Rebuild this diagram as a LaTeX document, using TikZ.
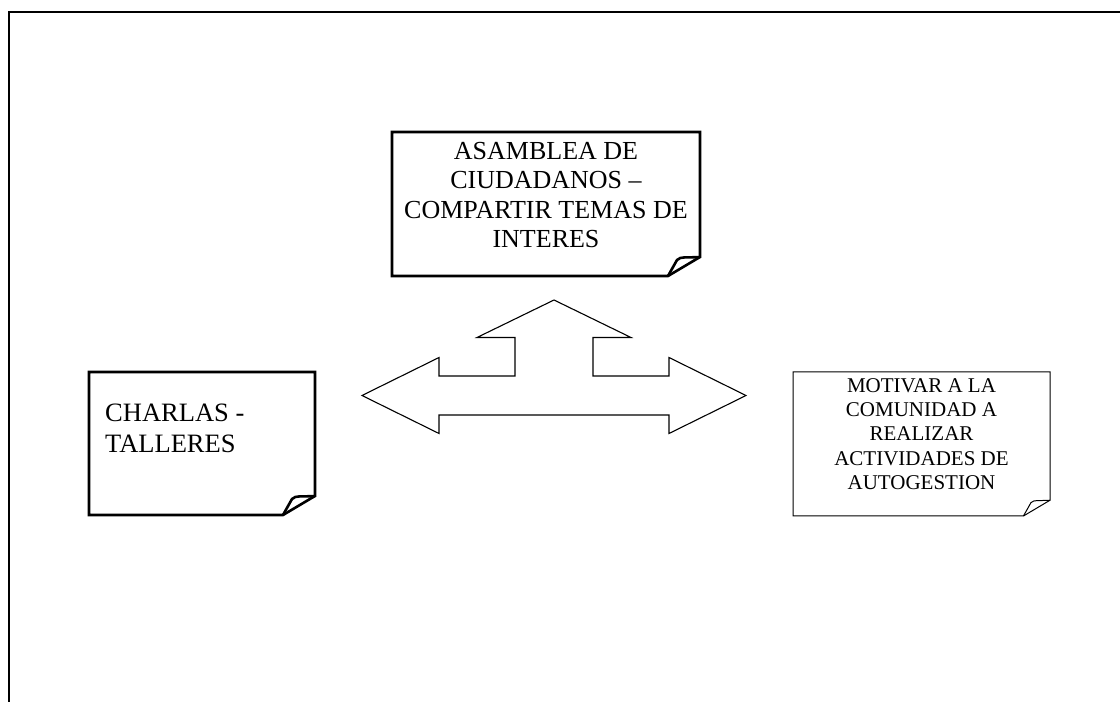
\documentclass[tikz,border=0pt]{standalone}
\usepackage{fontspec}
\setmainfont{Liberation Serif}
\usetikzlibrary{calc}
\tikzset{
        x=1pt, y=1pt, % one unit is one point of the page
        frame/.style={line width=2.6pt}, % the open page border
        heavy card/.style={line width=2.6pt}, % notes with a bold outline
        light card/.style={line width=1pt}, % note with a thin outline
        arrow line/.style={line width=1.1pt}, % the three-way block arrow
        card text/.style={inner sep=0pt, align=#1}, % text inside a note
    }
% a note with a folded bottom right corner: style, north west, south east, fold size
\newcommand{\notecard}[4]{%
  \draw[#1] (#2) -- (#2 -| #3) -- ($(#3)+#4*(0,19)$) -- ($(#3)+#4*(-32,0)$) -- (#3 -| #2) -- cycle;
  \draw[#1] ($(#3)+#4*(-32,0)$) -- ($(#3)+#4*(-23,16)$)
    .. controls ($(#3)+#4*(-19,20)$) and ($(#3)+#4*(-14,18)$) .. ($(#3)+#4*(0,19)$);
}

\begin{document}
\begin{tikzpicture}
    \useasboundingbox (0,0) rectangle (1120,702);
    \draw[frame] (9,0) -- (9,690) -- (1120,690);

    % corners of the notes
    \coordinate (asamblea nw) at (392,570);
    \coordinate (asamblea se) at (700,426);
    \coordinate (charlas nw) at (89,330);
    \coordinate (charlas se) at (315,187);
    \coordinate (motivar nw) at (793,330);
    \coordinate (motivar se) at (1050,186);

    \notecard{heavy card}{asamblea nw}{asamblea se}{1}
    \notecard{heavy card}{charlas nw}{charlas se}{1}
    \notecard{light card}{motivar nw}{motivar se}{0.83}

    \node[card text=center, font=\fontsize{26}{29.3}\selectfont] (asamblea) at (546,507)
      {ASAMBLEA DE\\CIUDADANOS –\\COMPARTIR TEMAS DE\\INTERES};
    \node[card text=left, anchor=west, font=\fontsize{26.5}{31}\selectfont] (charlas) at (105,274)
      {CHARLAS -\\TALLERES};
    \node[card text=center, font=\fontsize{21}{24.3}\selectfont] (motivar) at (921.5,268)
      {MOTIVAR A LA\\COMUNIDAD A\\REALIZAR\\ACTIVIDADES DE\\AUTOGESTION};

    % block arrow pointing up, left and right
    \coordinate (hub) at (554,306.5);
    \begin{scope}[shift={(hub)}]
      \draw[arrow line] (0,95.5) -- (77,58) -- (39,58) -- (39,19.5) -- (115,19.5) -- (115,38)
        -- (192,0) -- (115,-38) -- (115,-19.5) -- (-115,-19.5) -- (-115,-38) -- (-192,0)
        -- (-115,38) -- (-115,19.5) -- (-39,19.5) -- (-39,58) -- (-77,58) -- cycle;
    \end{scope}
\end{tikzpicture}
\end{document}
